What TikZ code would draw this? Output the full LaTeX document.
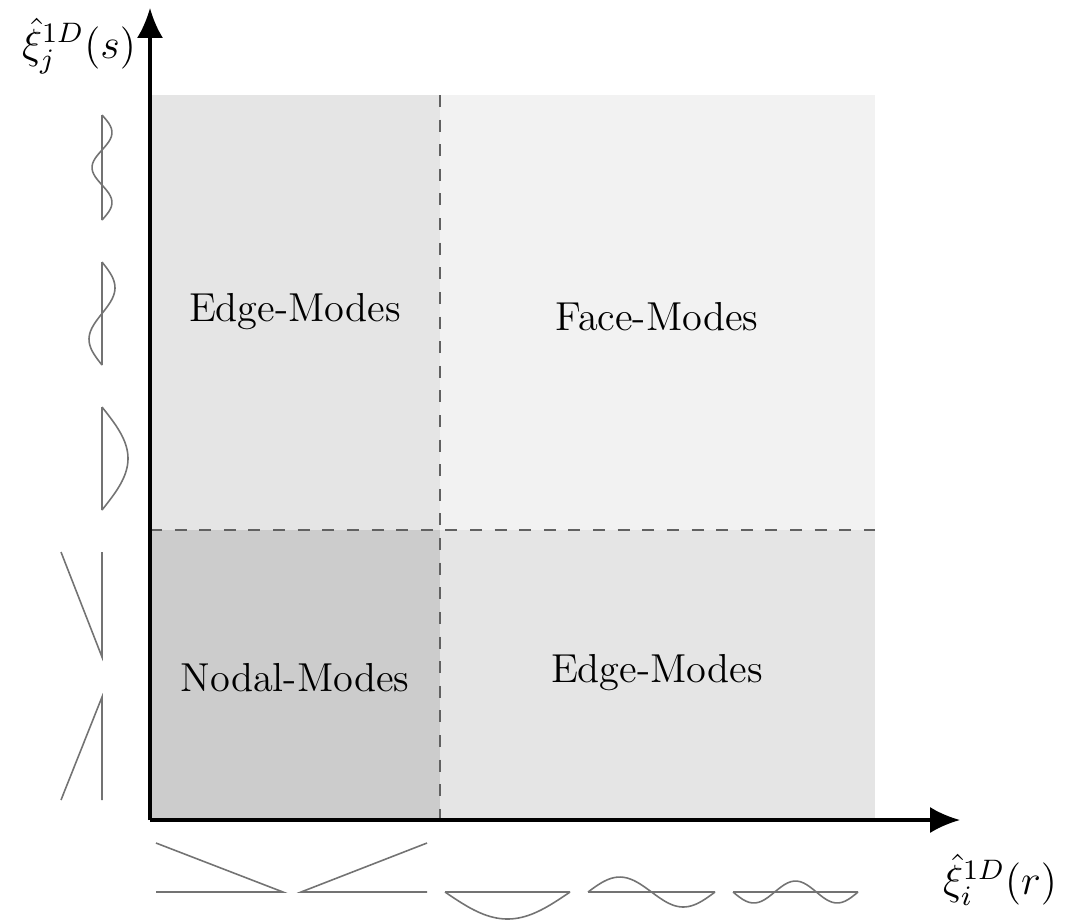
\documentclass[tikz,border=0pt]{standalone}
\usepackage{amsmath}
\usetikzlibrary{arrows.meta}
\definecolor{nodalgray}{gray}{0.80}
\definecolor{edgegray}{gray}{0.90}
\definecolor{facegray}{gray}{0.95}
\begin{document}
\begin{tikzpicture}[x=0.01cm,y=-0.01cm,>={Latex[length=8.5pt,width=7.4pt]},
	mode/.style={draw=black!55,line width=0.45pt},
	split/.style={draw=black!62,dash pattern=on 3.4pt off 3.6pt,line width=0.55pt},
	lbl/.style={font=\fontsize{11.5}{14}\selectfont}]
	\useasboundingbox (0,0) rectangle (1068,921);
	% regions
	\fill [edgegray] (150,95) rectangle (440,530);
	\fill [facegray] (440,95) rectangle (875,530);
	\fill [nodalgray] (150,530) rectangle (440,820);
	\fill [edgegray] (440,530) rectangle (875,820);
	\draw [split] (440,95) -- (440,820);
	\draw [split] (150,530) -- (875,530);
	\node [lbl] (edgeleft) at (295,312) {Edge-Modes};
	\node [lbl] (face) at (657,317) {Face-Modes};
	\node [lbl] (nodal) at (295,678) {Nodal-Modes};
	\node [lbl] (edgeright) at (657,673) {Edge-Modes};
	% axes
	\coordinate (O) at (150,820);
	\draw [->,line width=0.9pt] (O) -- (960,820) coordinate (xend);
	\draw [->,line width=0.9pt] (O) -- (150,8) coordinate (yend);
	\node [lbl] (ylabel) at (79,46) {$\hat{\xi}_j^{1D}(s)$};
	\node [lbl] (xlabel) at (1000,880) {$\hat{\xi}_i^{1D}(r)$};
	% modes along s
	\draw [mode] (102,115) -- (102,220) plot [domain=1:0,samples=40] ({102+10*sin(540*\x)},{115+105*\x});
	\draw [mode] (102,262) -- (102,365) plot [domain=1:0,samples=40] ({102+13*sin(360*\x)},{262+103*\x});
	\draw [mode] (102,407) -- (102,510) plot [domain=1:0,samples=40] ({102+26*sin(180*\x)},{407+103*\x});
	\draw [mode] (61,552) -- (102,657) -- (102,552);
	\draw [mode] (61,800) -- (102,697) -- (102,800);
	% modes along r
	\draw [mode] (156,843) -- (283,892) -- (156,892);
	\draw [mode] (427,843) -- (301,892) -- (427,892);
	\draw [mode] (445,892) -- (570,892) plot [domain=1:0,samples=40] ({445+125*\x},{892+27*sin(180*\x)});
	\draw [mode] (588,892) -- (715,892) plot [domain=1:0,samples=40] ({588+127*\x},{892-15*sin(360*\x)});
	\draw [mode] (733,892) -- (858,892) plot [domain=1:0,samples=40] ({733+125*\x},{892+11*sin(540*\x)});
\end{tikzpicture}
\end{document}
